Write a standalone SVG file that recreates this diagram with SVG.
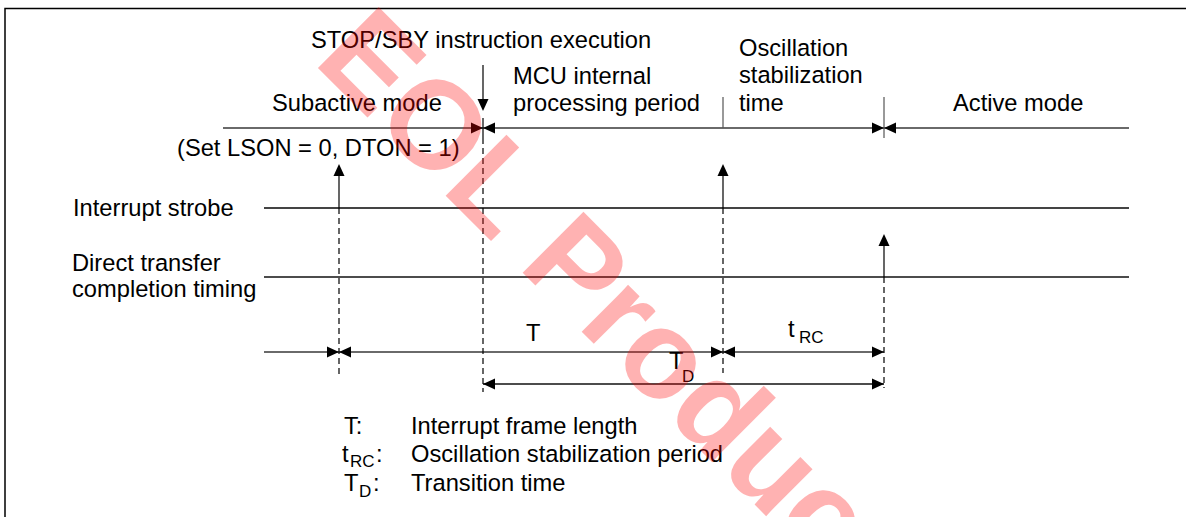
<svg xmlns="http://www.w3.org/2000/svg" width="1186" height="517" viewBox="0 0 1186 517">
<style>
text{font-family:"Liberation Sans",Arial,sans-serif;font-size:23.7px;fill:#000}
.sub{font-size:17px}
.frame{stroke:#000;stroke-width:1.5;fill:none}
.gl{stroke:#6a6a6a;stroke-width:2;fill:none}
.dl{stroke:#444;stroke-width:2;fill:none}
.bl{stroke:#111;stroke-width:1.6;fill:none}
.v{stroke:#000;stroke-width:1.2;fill:none}
.tk{stroke:#555;stroke-width:1.2;fill:none}
.dash{stroke:#000;stroke-width:1.2;stroke-dasharray:6 4;fill:none}
.ah{fill:#000}
.wm{font-family:"Liberation Sans",Arial,sans-serif;font-weight:bold;font-size:125px;fill:#ff0000;fill-opacity:0.3}
</style>
<defs>
<path id="ah" d="M0,0 L-12,-5.5 L-12,5.5 Z"/>
</defs>
<rect width="1186" height="517" fill="#fff"/>
<path class="frame" d="M5,517 V8.5 H1186"/>

<g id="mode-row">
<line class="gl" x1="223" y1="128" x2="1129" y2="128"/>
<text x="272" y="111">Subactive mode</text>
<text x="177" y="156">(Set LSON = 0, DTON = 1)</text>
<text x="311" y="48">STOP/SBY instruction execution</text>
<text x="513" y="84">MCU internal</text>
<text x="513" y="111">processing period</text>
<text x="739" y="56">Oscillation</text>
<text x="739" y="83">stabilization</text>
<text x="739" y="111">time</text>
<text x="953" y="111">Active mode</text>
</g>

<g id="interrupt-strobe">
<line class="dl" x1="264" y1="208" x2="1129" y2="208"/>
<text x="73" y="216">Interrupt strobe</text>
</g>

<g id="direct-transfer">
<line class="bl" x1="264" y1="277" x2="1129" y2="277"/>
<text x="72" y="271">Direct transfer</text>
<text x="72" y="297">completion timing</text>
</g>

<g id="timing-T">
<line class="gl" x1="264" y1="352" x2="884" y2="352"/>
<text x="526" y="341">T</text>
<text x="788" y="337">t</text>
<text class="sub" x="799" y="343">RC</text>
</g>

<g id="timing-TD">
<line class="bl" x1="483" y1="384" x2="884" y2="384"/>
<text x="669" y="369">T</text>
<text class="sub" x="682" y="382">D</text>
</g>

<g id="legend">
<text x="344" y="434">T:</text>
<text x="411" y="434">Interrupt frame length</text>
<text x="342" y="462">t</text>
<text class="sub" x="350" y="467">RC</text>
<text x="376" y="462">:</text>
<text x="411" y="462">Oscillation stabilization period</text>
<text x="344" y="491">T</text>
<text class="sub" x="359" y="497">D</text>
<text x="373" y="491">:</text>
<text x="411" y="491">Transition time</text>
</g>

<g id="connectors">
<line class="v" x1="339" y1="170" x2="339" y2="208"/>
<line class="dash" x1="339" y1="208" x2="339" y2="374"/>
<use href="#ah" class="ah" transform="translate(339,164) rotate(-90)"/>
<use href="#ah" class="ah" transform="translate(339,352)"/>
<use href="#ah" class="ah" transform="translate(339,352) rotate(180)"/>
<line class="v" x1="483" y1="65" x2="483" y2="104"/>
<use href="#ah" class="ah" transform="translate(483,111) rotate(90)"/>
<line class="v" x1="483" y1="118" x2="483" y2="138"/>
<line class="dash" x1="483" y1="138" x2="483" y2="392"/>
<use href="#ah" class="ah" transform="translate(483,128)"/>
<use href="#ah" class="ah" transform="translate(483,128) rotate(180)"/>
<use href="#ah" class="ah" transform="translate(483,384) rotate(180)"/>
<line class="tk" x1="723" y1="97" x2="723" y2="128"/>
<line class="v" x1="723" y1="170" x2="723" y2="208"/>
<line class="dash" x1="723" y1="208" x2="723" y2="373"/>
<use href="#ah" class="ah" transform="translate(723,164) rotate(-90)"/>
<use href="#ah" class="ah" transform="translate(723,352)"/>
<use href="#ah" class="ah" transform="translate(723,352) rotate(180)"/>
<line class="tk" x1="884" y1="97" x2="884" y2="138"/>
<use href="#ah" class="ah" transform="translate(884,128)"/>
<use href="#ah" class="ah" transform="translate(884,128) rotate(180)"/>
<line class="v" x1="884" y1="240" x2="884" y2="277"/>
<line class="dash" x1="884" y1="277" x2="884" y2="388"/>
<use href="#ah" class="ah" transform="translate(884,234) rotate(-90)"/>
<use href="#ah" class="ah" transform="translate(884,352)"/>
<use href="#ah" class="ah" transform="translate(884,384)"/>
</g>

<text class="wm" transform="translate(312,62) rotate(45)">EOL Products</text>
</svg>
